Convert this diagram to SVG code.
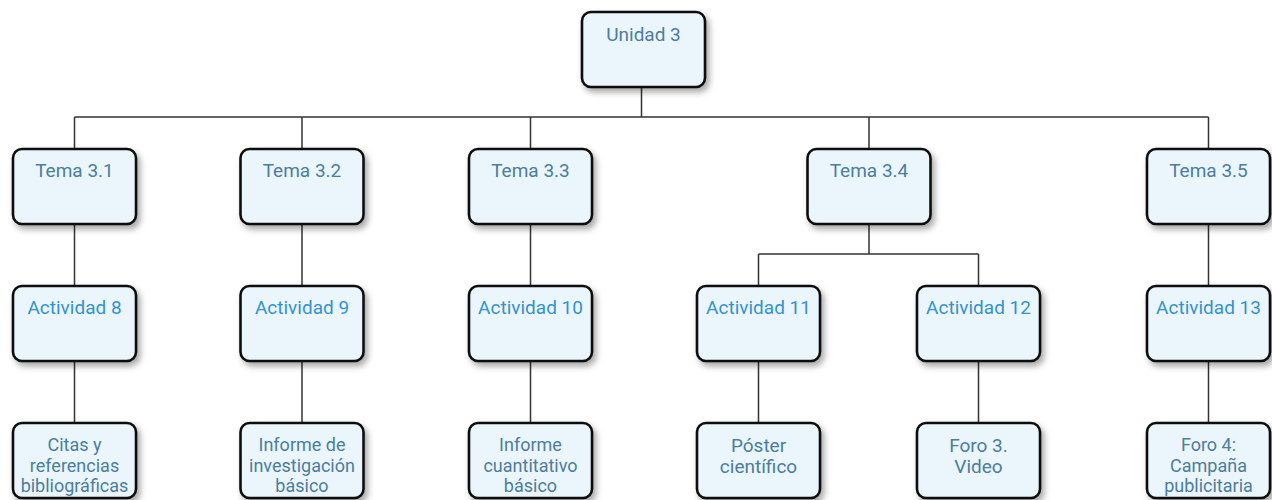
<svg xmlns="http://www.w3.org/2000/svg" width="1272" height="500" viewBox="0 0 1272 500">
<defs>
<filter id="sh" x="-20%" y="-20%" width="150%" height="150%">
<feDropShadow dx="3" dy="4" stdDeviation="3" flood-color="#000" flood-opacity="0.35"/>
</filter>
<style>
.box{fill:#eaf6fc;stroke:#111;stroke-width:2.6;filter:url(#sh)}
.t{font-family:Roboto,"Liberation Sans",sans-serif;font-size:19px;text-anchor:middle}
.m{font-size:18px}
.u{fill:#4d7d9c}
.a{fill:#3592cc}
.c{fill:none;stroke:#333;stroke-width:1.5}
</style>
</defs>
<rect width="1272" height="500" fill="#fff"/>
<g id="connectors" class="c">
<path d="M641.5 87V117M74.5 117H1208.5M74.5 117V149M302 117V149M530.5 117V149M869 117V149M1208.5 117V149"/>
<path d="M74.5 224V286M302 224V286M530.5 224V286M1208.5 224V286"/>
<path d="M869 224V254M758.5 254H978.5M758.5 254V286M978.5 254V286"/>
<path d="M74.5 361V423M302 361V423M530.5 361V423M758.5 361V423M978.5 361V423M1208.5 361V423"/>
</g>
<g id="unidad3"><rect class="box" x="582" y="12" width="123" height="75" rx="9"/><text class="t u" x="643.5" y="41">Unidad 3</text></g>
<g id="tema31"><rect class="box" x="13" y="149" width="123" height="75" rx="9"/><text class="t u" x="74.5" y="177">Tema 3.1</text></g>
<g id="tema32"><rect class="box" x="240.5" y="149" width="123" height="75" rx="9"/><text class="t u" x="302" y="177">Tema 3.2</text></g>
<g id="tema33"><rect class="box" x="469" y="149" width="123" height="75" rx="9"/><text class="t u" x="530.5" y="177">Tema 3.3</text></g>
<g id="tema34"><rect class="box" x="807.5" y="149" width="123" height="75" rx="9"/><text class="t u" x="869" y="177">Tema 3.4</text></g>
<g id="tema35"><rect class="box" x="1147" y="149" width="123" height="75" rx="9"/><text class="t u" x="1208.5" y="177">Tema 3.5</text></g>
<g id="act8"><rect class="box" x="13" y="286" width="123" height="75" rx="9"/><text class="t a" x="74.5" y="314">Actividad 8</text></g>
<g id="act9"><rect class="box" x="240.5" y="286" width="123" height="75" rx="9"/><text class="t a" x="302" y="314">Actividad 9</text></g>
<g id="act10"><rect class="box" x="469" y="286" width="123" height="75" rx="9"/><text class="t a" x="530.5" y="314">Actividad 10</text></g>
<g id="act11"><rect class="box" x="697" y="286" width="123" height="75" rx="9"/><text class="t a" x="758.5" y="314">Actividad 11</text></g>
<g id="act12"><rect class="box" x="917" y="286" width="123" height="75" rx="9"/><text class="t a" x="978.5" y="314">Actividad 12</text></g>
<g id="act13"><rect class="box" x="1147" y="286" width="123" height="75" rx="9"/><text class="t a" x="1208.5" y="314">Actividad 13</text></g>
<g id="citas"><rect class="box" x="13" y="423" width="123" height="75" rx="9"/><text class="t m u" x="74.5" y="451">Citas y<tspan x="74.5" y="472">referencias</tspan><tspan x="74.5" y="492">bibliográficas</tspan></text></g>
<g id="informe1"><rect class="box" x="240.5" y="423" width="123" height="75" rx="9"/><text class="t m u" x="302" y="451">Informe de<tspan x="302" y="472">investigación</tspan><tspan x="302" y="492">básico</tspan></text></g>
<g id="informe2"><rect class="box" x="469" y="423" width="123" height="75" rx="9"/><text class="t m u" x="530.5" y="451">Informe<tspan x="530.5" y="472">cuantitativo</tspan><tspan x="530.5" y="492">básico</tspan></text></g>
<g id="poster"><rect class="box" x="697" y="423" width="123" height="75" rx="9"/><text class="t u" x="758.5" y="452">Póster<tspan x="758.5" y="473">científico</tspan></text></g>
<g id="foro3"><rect class="box" x="917" y="423" width="123" height="75" rx="9"/><text class="t u" x="978.5" y="452">Foro 3.<tspan x="978.5" y="473">Video</tspan></text></g>
<g id="foro4"><rect class="box" x="1147" y="423" width="123" height="75" rx="9"/><text class="t m u" x="1208.5" y="451">Foro 4:<tspan x="1208.5" y="472">Campaña</tspan><tspan x="1208.5" y="492">publicitaria</tspan></text></g>
</svg>
